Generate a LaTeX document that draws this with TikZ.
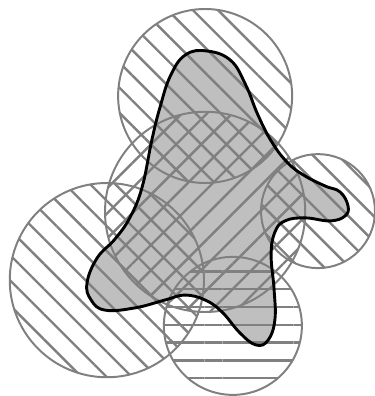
\documentclass[tikz,border=0pt]{standalone}
\usepackage{tikz}
\usetikzlibrary{patterns.meta}
\newcommand{\blobshape}{plot[smooth cycle,tension=0.7] coordinates {%
  (5.52,9.20) (6.15,8.95) (6.55,8.30) (6.88,7.49) (7.25,6.77) (7.68,6.21)
  (8.13,5.87) (8.67,5.60) (9.07,5.44) (9.28,5.07) (9.20,4.80) (8.80,4.67)
  (8.13,4.75) (7.60,4.67) (7.33,4.37) (7.23,3.76) (7.31,2.83) (7.33,2.03)
  (7.15,1.49) (6.83,1.36) (6.40,1.68) (5.92,2.24) (5.47,2.56) (4.93,2.69)
  (4.40,2.56) (3.60,2.35) (2.80,2.29) (2.43,2.56) (2.32,3.01) (2.59,3.68)
  (3.07,4.19) (3.47,4.77) (3.79,5.57) (4.05,6.83) (4.27,7.71) (4.55,8.55)
  (4.95,9.10)}}

\begin{document}
\begin{tikzpicture}[
    hatched/.style={draw=gray,line width=1.5pt,pattern color=gray,
      pattern={Lines[angle=#1,distance=13.5pt,line width=1.8pt]}},
    blob/.style={draw=black,line width=2.2pt}]
  \useasboundingbox (0,0) rectangle (10,10.56);
  % shaded region under the cover
  \fill[lightgray] \blobshape;
  % covering discs
  \draw[hatched=-45] (5.47,8.00) circle (2.32);
  \draw[hatched=45]  (5.47,4.91) circle (2.67);
  \draw[hatched=-45] (2.85,3.09) circle (2.59);
  \draw[hatched=-45] (8.48,4.93) circle (1.52);
  \draw[hatched=0]   (6.21,1.87) circle (1.84);
  % outline of the region
  \draw[blob] \blobshape;
\end{tikzpicture}
\end{document}
